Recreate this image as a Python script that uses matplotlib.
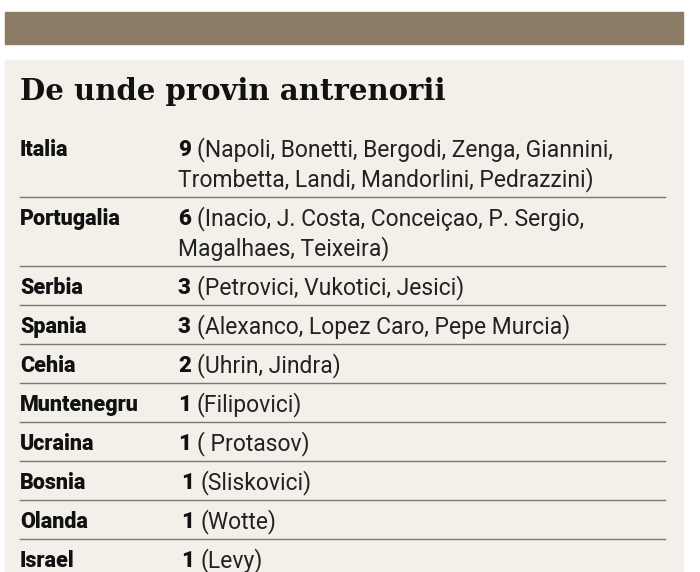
import matplotlib
matplotlib.use('Agg')
import matplotlib.pyplot as plt
from matplotlib.patches import Rectangle

title = "De unde provin antrenorii"
countries = ["Italia", "Portugalia", "Serbia", "Spania", "Cehia", "Muntenegru",
             "Ucraina", "Bosnia", "Olanda", "Israel"]
counts = ["9", "6", "3", "3", "2", "1", "1", "1", "1", "1"]
names = [
    "(Napoli, Bonetti, Bergodi, Zenga, Giannini,\nTrombetta, Landi, Mandorlini, Pedrazzini)",
    "(Inacio, J. Costa, Conceiçao, P. Sergio,\nMagalhaes, Teixeira)",
    "(Petrovici, Vukotici, Jesici)",
    "(Alexanco, Lopez Caro, Pepe Murcia)",
    "(Uhrin, Jindra)",
    "(Filipovici)",
    "( Protasov)",
    "(Sliskovici)",
    "(Wotte)",
    "(Levy)",
]
# the last three counts sit slightly further right in the original
count_x = [178, 178, 178, 178, 178, 178, 178, 181, 181, 181]

fig = plt.figure(figsize=(7, 5.72), dpi=100)
ax = fig.add_axes([0, 0, 1, 1])
ax.set_xlim(0, 700)
ax.set_ylim(572, 0)
ax.axis('off')

ax.add_patch(Rectangle((5, 12), 678, 32, color='#8c7b65'))
ax.add_patch(Rectangle((5, 60), 678, 520, color='#f3f0ea'))

ax.text(20, 92, title, fontsize=21, fontweight='heavy', family='DejaVu Serif',
        va='center', color='#111111')

y = 150
for c, n, txt, cx in zip(countries, counts, names, count_x):
    ax.text(20, y, c, fontsize=15.5, fontweight='black', family='Roboto',
            va='center', color='#111111')
    ax.text(cx, y, n, fontsize=16, fontweight='black', family='Roboto',
            va='center', color='#111111')
    lines = txt.split('\n')
    for k, ln in enumerate(lines):
        x0 = cx + 19 if k == 0 else 178
        ax.text(x0, y + 30 * k, ln, fontsize=16.5, family='Roboto',
                va='center', color='#222222')
    line_y = y + 30 * (len(lines) - 1) + 17
    ax.plot([20, 665], [line_y, line_y], color='#777777', lw=1)
    y = line_y + 22

fig.savefig('out.png', dpi=100)
